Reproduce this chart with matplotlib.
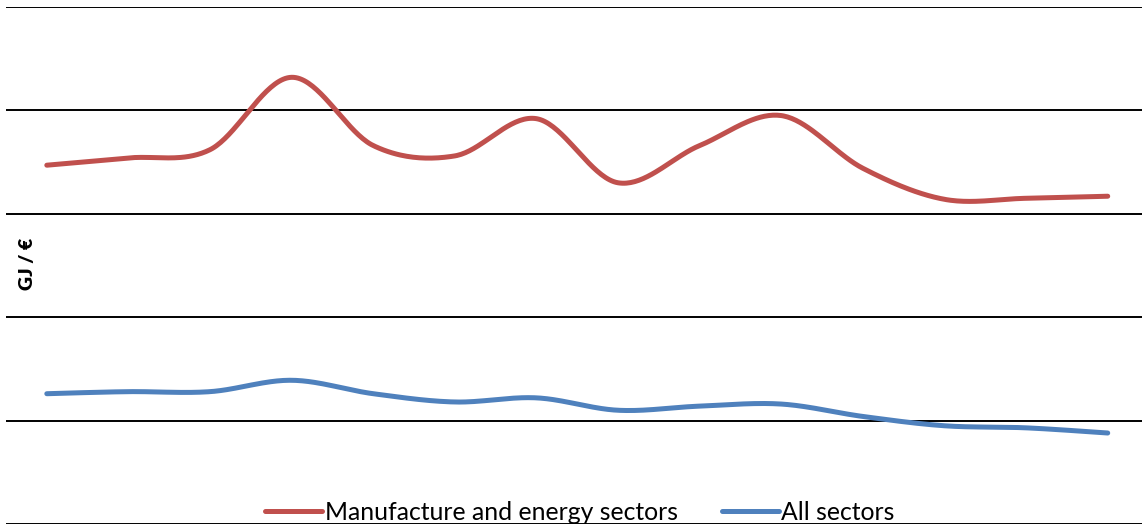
import numpy as np
import matplotlib
matplotlib.use('Agg')
import matplotlib.pyplot as plt

years = list(range(2000, 2014))
manufacture_energy = [0.01735, 0.0177, 0.0181, 0.0216, 0.0183, 0.0178, 0.0196,
                      0.0165, 0.0183, 0.01975, 0.0172, 0.0157, 0.01575, 0.01585]
all_sectors = [0.0063, 0.0064, 0.0064, 0.00695, 0.0063, 0.0059, 0.0061,
               0.0055, 0.0057, 0.0058, 0.0052, 0.00475, 0.00465, 0.0044]

RED = '#C0504D'
BLUE = '#4F81BD'


def smooth(x, y, steps=40):
    # spreadsheet-style smoothed line: cubic bezier through every point
    x = np.asarray(x, dtype=float)
    y = np.asarray(y, dtype=float)
    px = np.concatenate([[x[0]], x, [x[-1]]])
    py = np.concatenate([[y[0]], y, [y[-1]]])
    t = np.linspace(0, 1, steps)[:, None]
    xs, ys = [], []
    for i in range(len(x) - 1):
        p0 = np.array([x[i], y[i]])
        p3 = np.array([x[i + 1], y[i + 1]])
        c1 = p0 + (np.array([px[i + 2], py[i + 2]]) - np.array([px[i], py[i]])) / 6
        c2 = p3 - (np.array([px[i + 3], py[i + 3]]) - np.array([px[i + 1], py[i + 1]])) / 6
        b = ((1 - t) ** 3) * p0 + 3 * ((1 - t) ** 2) * t * c1 + 3 * (1 - t) * t ** 2 * c2 + t ** 3 * p3
        xs.append(b[:, 0])
        ys.append(b[:, 1])
    return np.concatenate(xs), np.concatenate(ys)


plt.rcParams['font.family'] = ['Lato', 'DejaVu Sans']

fig = plt.figure(figsize=(11.42, 5.31), dpi=100)
ax = fig.add_axes([6 / 1142, 7 / 531, 1136 / 1142, 517 / 531])

x = np.arange(len(years))
sx, sy = smooth(x, manufacture_energy)
ax.plot(sx, sy, color=RED, lw=3.6, solid_capstyle='round',
        label='Manufacture and energy sectors', zorder=3)
sx, sy = smooth(x, all_sectors)
ax.plot(sx, sy, color=BLUE, lw=3.6, solid_capstyle='round',
        label='All sectors', zorder=3)

ax.set_xlim(-0.5, 13.42)
ax.set_ylim(0, 0.025)
ax.set_yticks(np.arange(0, 0.0251, 0.005))
ax.yaxis.grid(True, color='black', lw=1.4)
ax.set_axisbelow(True)
ax.tick_params(left=False, bottom=False, labelleft=False, labelbottom=False)
for s in ax.spines.values():
    s.set_visible(False)

fig.text(28 / 1142, 267 / 531, 'GJ / €', rotation=90, fontsize=14,
         fontweight='heavy', ha='center', va='center')

fig.legend(loc='center', bbox_to_anchor=(580 / 1142, 1 - 512 / 531),
           ncol=2, frameon=False, fontsize=17.8, handlelength=2.3,
           handletextpad=0.1, columnspacing=1.8, borderpad=0)

fig.savefig('out.png', dpi=100)
